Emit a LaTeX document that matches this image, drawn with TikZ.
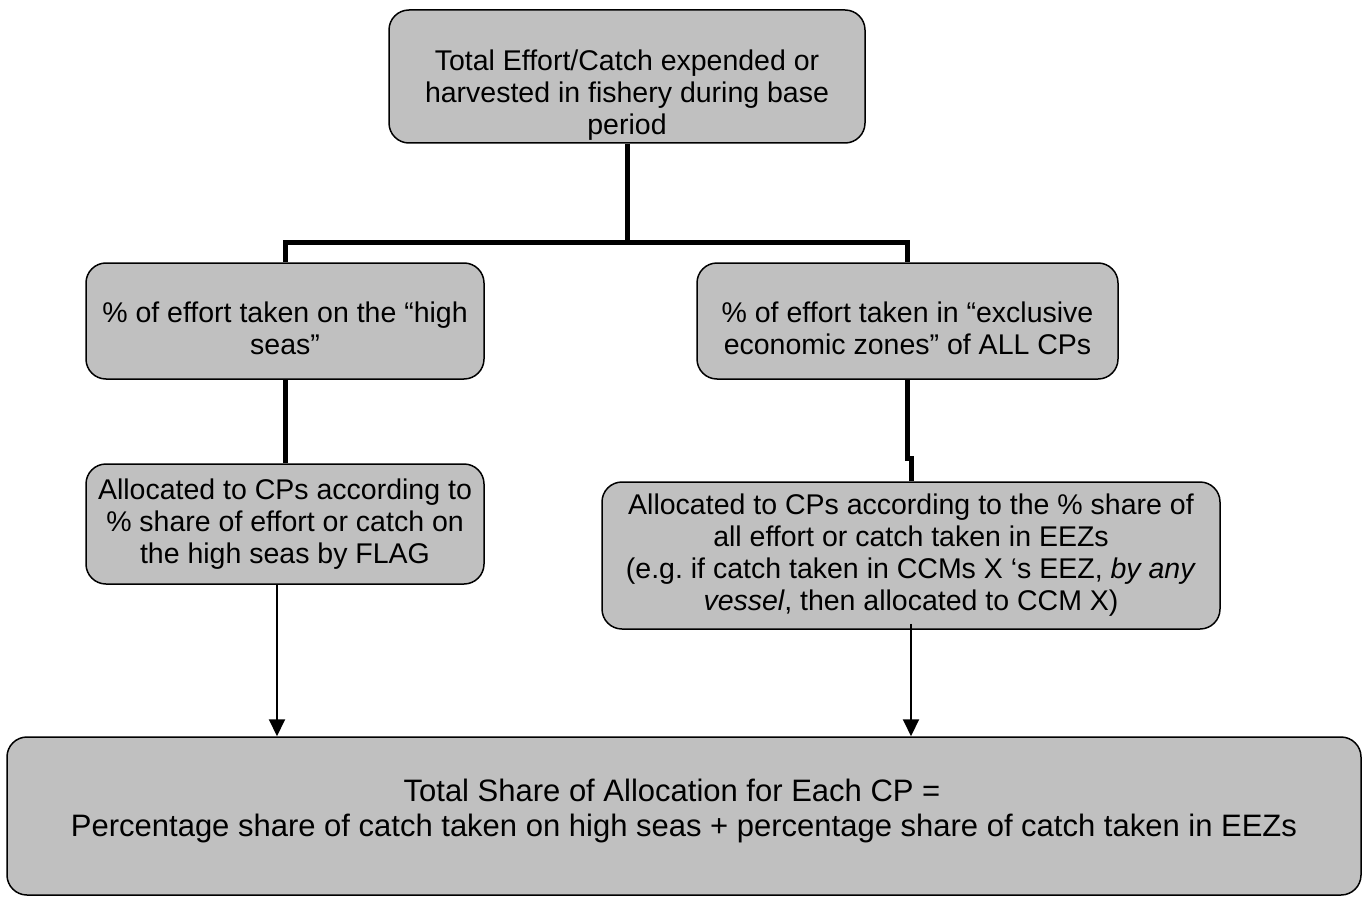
\documentclass[tikz,border=0pt]{standalone}
\usepackage{fontspec}
\setmainfont{Liberation Sans}
\usetikzlibrary{arrows.meta}
\definecolor{boxgray}{RGB}{192,192,192}
\begin{document}
\begin{tikzpicture}
  [x=1pt,y=-1pt,every node/.style={draw,fill=boxgray,rounded corners=20pt,line width=1.5pt,
   align=center,inner sep=2pt,font=\fontsize{28.5}{32}\selectfont}]
  \tikzstyle{tree} = [line width=5pt]
  \tikzstyle{flow} = [line width=2pt,-{Triangle[length=17pt,width=16pt]}]
  \useasboundingbox (0,0) rectangle (1364,896);
  \node[minimum width=476pt,minimum height=133pt] (top) at (627,76.5)
    {\rule{0pt}{57pt}Total Effort/Catch expended or\\harvested in fishery during base\\period};
  \node[minimum width=398pt,minimum height=116pt] (hs) at (285,321)
    {\rule{0pt}{35pt}\% of effort taken on the “high\\seas”};
  \node[minimum width=421pt,minimum height=116pt] (eez) at (907.5,321)
    {\rule{0pt}{35pt}\% of effort taken in “exclusive\\economic zones” of ALL CPs};
  \node[minimum width=398pt,minimum height=120pt] (flag) at (285,524)
    {Allocated to CPs according to\\\% share of effort or catch on\\the high seas by FLAG};
  \node[minimum width=618pt,minimum height=147pt] (eezshare) at (911,555.5)
    {Allocated to CPs according to the \% share of\\all effort or catch taken in EEZs\\(e.g.\ if catch taken in CCMs X ‘s EEZ, \textit{by any}\\\textit{vessel}, then allocated to CCM X)};
  \node[minimum width=1354pt,minimum height=158pt,font=\fontsize{31}{35}\selectfont] (total) at (684,816)
    {Total Share of Allocation for Each CP =\hspace*{24pt}\\Percentage share of catch taken on high seas + percentage share of catch taken in EEZs\hspace*{24pt}\\[-18pt]\mbox{}};
  % split of the total effort
  \foreach \dest in {hs,eez}
   \draw[tree] (top.south) -- ++(0,99) -| (\dest.north);
  \draw[tree] (hs) -- (flag);
  \draw[tree] (eez.south) -- ++(0,79) -| (eezshare.north);
  % shares into the total
  \draw[flow] ([xshift=-8pt]flag.south) -- ([xshift=-8pt]flag.south |- total.north);
  \draw[flow] ([yshift=6pt]eezshare.south) -- (eezshare.south |- total.north);
\end{tikzpicture}
\end{document}
